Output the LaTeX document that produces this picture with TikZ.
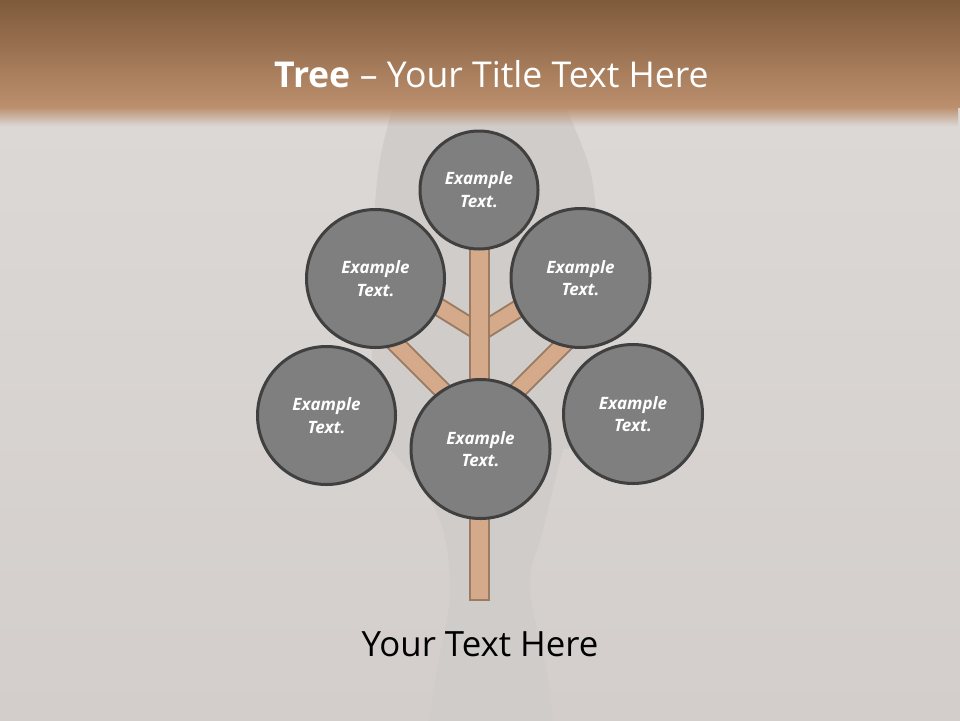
\documentclass[tikz,border=0pt]{standalone}
\usepackage{fontspec}
\setmainfont{Open Sans}
\usetikzlibrary{fadings}
\definecolor{bgtop}{HTML}{DDDAD8}
\definecolor{bgbot}{HTML}{D3CECB}
\definecolor{silh}{HTML}{D0CCCA}
\definecolor{hdtop}{HTML}{7E5A3B}
\definecolor{hdbot}{HTML}{BC8F6D}
\definecolor{barfill}{HTML}{D4AA8A}
\definecolor{barbd}{HTML}{9C7B63}
\definecolor{bubfill}{HTML}{7F7F7F}
\definecolor{bubbd}{HTML}{404040}
\tikzfading[name=hdfade, top color=transparent!0, bottom color=transparent!100]
\tikzset{
  bub/.style={circle, draw=bubbd, fill=bubfill, line width=3pt, inner sep=0pt,
    text=white, align=center, font=\fontsize{17}{22.7}\selectfont\bfseries\itshape},
  barout/.style={line width=19pt, draw=barbd},
  barin/.style={line width=15pt, draw=barfill},
  trunkbox/.style={rectangle, draw=barbd, fill=barfill, line width=2pt, inner sep=0pt,
    minimum width=18.7pt, minimum height=365pt},
  titletxt/.style={text=white, font=\fontsize{35.6}{40}\selectfont, inner sep=0pt, anchor=base},
  bodytxt/.style={text=black, font=\fontsize{34.8}{40}\selectfont, inner sep=0pt, anchor=base}
}
\begin{document}
\begin{tikzpicture}[x=1pt,y=-1pt]
\useasboundingbox (0,0) rectangle (960,720);
% background
\shade[top color=bgtop, bottom color=bgbot] (0,0) rectangle (960,720);
% silhouette
\fill[silh] plot[smooth, tension=0.6] coordinates {(567,110) (590,170) (597,230) (598,300)}
  -- (598,447) -- (563,449)
  -- plot[smooth, tension=0.6] coordinates {(563,449) (543,530) (530,587) (547,673) (553,722)}
  -- (428,722)
  -- plot[smooth, tension=0.6] coordinates {(428,722) (437,670) (450,590) (437,513) (390,449)}
  -- (372,447) -- (372,300)
  -- plot[smooth, tension=0.6] coordinates {(372,300) (374,220) (380,160) (392,110)}
  -- cycle;
% header
\shade[top color=hdtop, bottom color=hdbot] (0,0) rectangle (960,107);
\shade[top color=hdbot, bottom color=hdbot, path fading=hdfade] (0,107) rectangle (960,126);
\node[titletxt] (title) at (491.5,87) {\textbf{Tree} – Your Title Text Here};
% tree junctions
\coordinate (j1) at (480,332.5);
\coordinate (j2) at (480,428);
\coordinate (ulend) at (405,286);
\coordinate (urend) at (555,286);
\coordinate (llend) at (385,333);
\coordinate (lrend) at (575,333);
% branches
\foreach \e/\j in {ulend/j1, urend/j1, llend/j2, lrend/j2}{
  \draw[barout] (\j) -- (\e);
  \draw[barin] (\j) -- (\e);
}
% trunk
\node[trunkbox] (trunk) at (479.65,417.5) {};
% circles
\node[bub, minimum size=118pt] (top) at (479,190) {Example\\Text.};
\node[bub, minimum size=138pt] (ul) at (375.5,278.5) {Example\\Text.};
\node[bub, minimum size=139pt] (ur) at (580.5,278) {Example\\Text.};
\node[bub, minimum size=138pt] (ll) at (326.5,415.5) {Example\\Text.};
\node[bub, minimum size=139pt] (bot) at (480.5,449) {Example\\Text.};
\node[bub, minimum size=139pt] (rt) at (633,414) {Example\\Text.};
% bottom text
\node[bodytxt] (body) at (480,656) {Your Text Here};
\end{tikzpicture}
\end{document}
